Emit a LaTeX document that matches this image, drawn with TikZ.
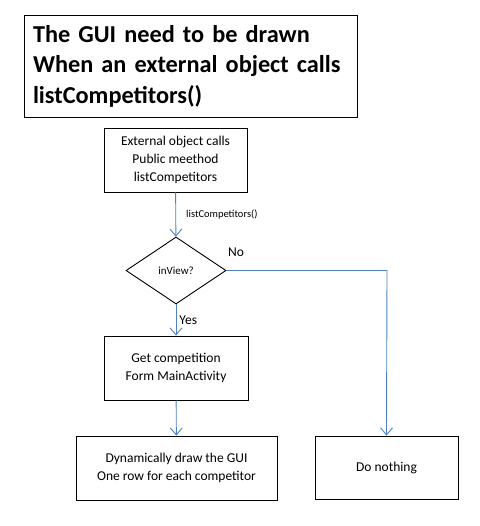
\documentclass[tikz,border=0pt]{standalone}
\usepackage{fontspec}
\setmainfont{Carlito}
\usetikzlibrary{arrows.meta,shapes.geometric}
\definecolor{FlowBlue}{RGB}{79,129,189}

\begin{document}
\begin{tikzpicture}[x=1pt,y=-1pt]
  \tikzstyle{BoxStyle}=[draw=black,line width=0.9pt,align=center,inner sep=0pt,
                        font=\fontsize{13.5}{18}\selectfont]
  \tikzstyle{EdgeStyle}=[draw=FlowBlue,line width=0.9pt,
                         -{Straight Barb[length=7pt,width=12pt,line width=0.9pt]}]
  \tikzstyle{LabelStyle}=[font=\fontsize{10.5}{12}\selectfont,inner sep=0pt]
  \useasboundingbox (0,0) rectangle (479,526);
  % title
  \node[BoxStyle,minimum width=333pt,minimum height=102pt,
        font=\fontsize{24.3}{30.5}\selectfont\bfseries,align=left,
        text width=315pt] (title) at (190.5,66)
        {The GUI need to be drawn\\When an external object calls\\listCompetitors()};
  % flow boxes
  \node[BoxStyle,minimum width=143pt,minimum height=64pt] (call) at (175.5,160)
        {External object calls\\Public meethod\\listCompetitors};
  \node[draw=black,line width=0.9pt,shape=diamond,minimum width=100pt,
        minimum height=67pt,inner sep=0pt,font=\fontsize{11}{12}\selectfont]
        (view) at (176,270.5) {inView?};
  \node[BoxStyle,minimum width=144pt,minimum height=64pt] (get) at (176,368)
        {Get competition\\Form MainActivity};
  \node[BoxStyle,minimum width=201pt,minimum height=64pt] (dyn) at (176.5,468)
        {Dynamically draw\ the GUI\\One row\ for each competitor};
  \node[BoxStyle,minimum width=143pt,minimum height=63pt] (none) at (386.5,467.5)
        {Do nothing};
  % connectors
  \coordinate (turn) at (387,270.5);
  \draw[EdgeStyle] (call) -- (view)
        node[LabelStyle,pos=0.5,anchor=west,xshift=10pt] {listCompetitors()};
  \draw[EdgeStyle] (view) -- (get)
        node[LabelStyle,font=\fontsize{13.5}{15}\selectfont,pos=0.5,anchor=west,xshift=3pt] {Yes};
  \draw[EdgeStyle] (get) -- (dyn);
  \draw[EdgeStyle] (view.east) -- (turn) -- (none.north);
  \node[LabelStyle,font=\fontsize{13.5}{15}\selectfont] (no) at (236,252) {No};
\end{tikzpicture}
\end{document}
